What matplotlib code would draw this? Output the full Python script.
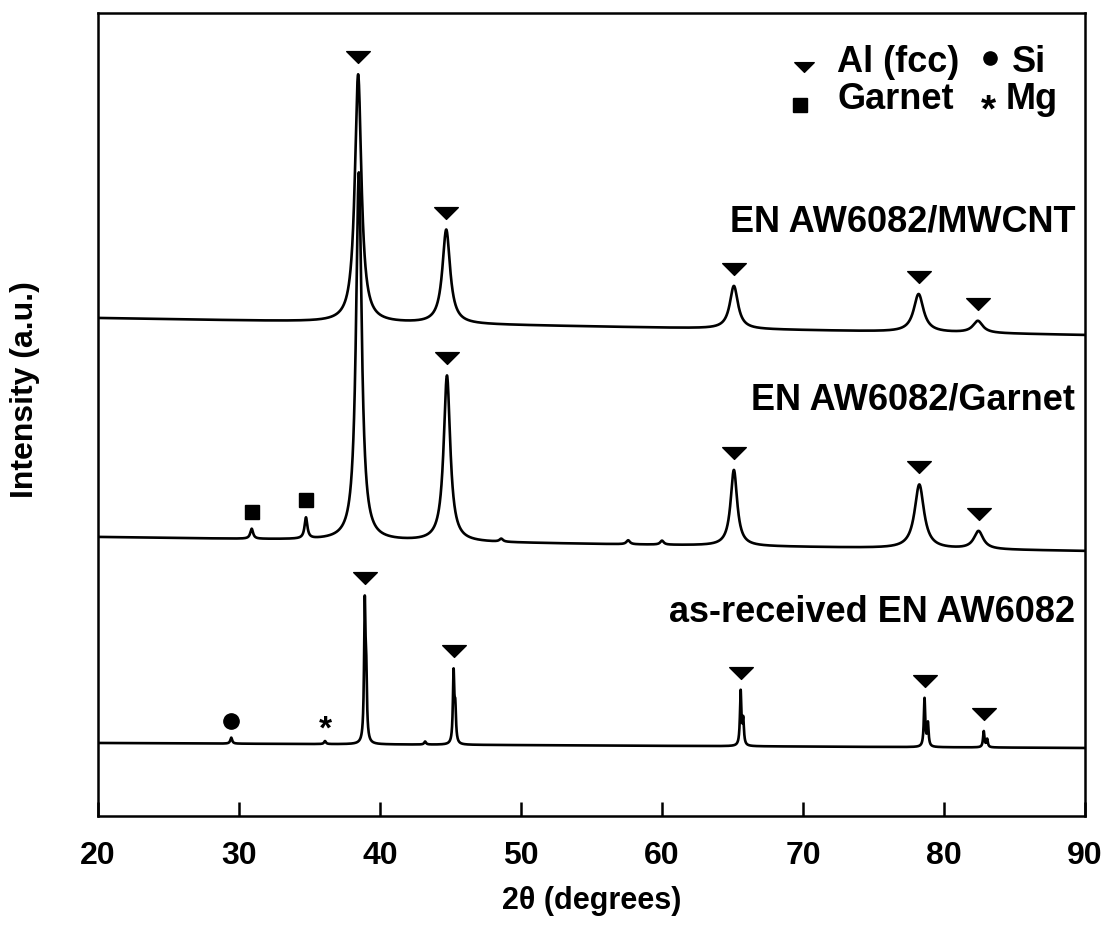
import numpy as np
import matplotlib.pyplot as plt
from matplotlib.path import Path

plt.rcParams['font.family'] = ['Liberation Sans', 'DejaVu Sans']
plt.rcParams['font.weight'] = 'bold'
plt.rcParams['axes.labelweight'] = 'bold'

# --- peak tables (2theta, height, half width) ---
mwcnt_pos = [38.45, 44.70, 65.10, 78.20, 82.40]
mwcnt_height = [248, 94, 43, 38, 12]
mwcnt_hwhm = [0.28, 0.33, 0.35, 0.42, 0.42]
mwcnt_base = [498, 481]

garnet_pos = [30.90, 34.75, 38.50, 44.75, 48.60, 57.60, 60.00, 65.10, 78.25, 82.45]
garnet_height = [10, 21, 368, 166, 3, 4, 4, 76, 64, 18]
garnet_hwhm = [0.12, 0.12, 0.24, 0.28, 0.15, 0.15, 0.15, 0.28, 0.40, 0.40]
garnet_base = [279, 265]

received_pos = [29.45, 36.10, 38.92, 39.02, 43.20, 45.22, 45.34,
                65.58, 65.76, 78.62, 78.86, 82.82, 83.06]
received_height = [6, 3, 133, 60, 3, 70, 32, 54, 25, 48, 23, 16, 8]
received_hwhm = [0.08, 0.08, 0.06, 0.06, 0.08, 0.06, 0.06,
                 0.06, 0.06, 0.06, 0.06, 0.06, 0.06]
received_base = [73, 68]

# phase markers: (2theta, symbol)
mwcnt_marks = [(38.45, 'Al'), (44.70, 'Al'), (65.10, 'Al'), (78.20, 'Al'), (82.40, 'Al')]
garnet_marks = [(30.90, 'Garnet'), (34.75, 'Garnet'), (44.75, 'Al'),
                (65.10, 'Al'), (78.25, 'Al'), (82.45, 'Al')]
received_marks = [(29.45, 'Si'), (36.10, 'Mg'), (38.92, 'Al'), (45.22, 'Al'),
                  (65.58, 'Al'), (78.62, 'Al'), (82.82, 'Al')]

sample_labels = ['EN AW6082/MWCNT', 'EN AW6082/Garnet', 'as-received EN AW6082']
legend_labels = ['Al (fcc)', 'Garnet', 'Si', 'Mg']

tri = Path([(-1, 0.5), (1, 0.5), (0, -0.5), (-1, 0.5)],
           [Path.MOVETO, Path.LINETO, Path.LINETO, Path.CLOSEPOLY])

two_theta = np.linspace(20, 90, 7001)


def pattern(pos, height, hwhm, base):
    y = np.interp(two_theta, [20, 90], base)
    for p, h, w in zip(pos, height, hwhm):
        y = y + h * w**2 / ((two_theta - p)**2 + w**2)
    return y


fig = plt.figure(figsize=(11.06, 9.32), dpi=100)
ax = fig.add_axes([0.0886, 0.1245, 0.8924, 0.8615])

traces = [
    (pattern(mwcnt_pos, mwcnt_height, mwcnt_hwhm, mwcnt_base), mwcnt_marks),
    (pattern(garnet_pos, garnet_height, garnet_hwhm, garnet_base), garnet_marks),
    (pattern(received_pos, received_height, received_hwhm, received_base), received_marks),
]

for y, marks in traces:
    ax.plot(two_theta, y, color='black', lw=1.9)
    for p, phase in marks:
        near = np.abs(two_theta - p) < 0.3
        ym = y[near].max() + 17
        if phase == 'Al':
            ax.plot(p, ym, marker=tri, ms=17, color='black', ls='none')
        elif phase == 'Garnet':
            ax.plot(p, ym, marker='s', ms=10.5, color='black', ls='none')
        elif phase == 'Si':
            ax.plot(p, ym, marker='o', ms=11, color='black', ls='none')
        else:
            ax.text(p, ym - 6, '*', fontsize=24, ha='center', va='center')

# sample names
for label, yf in zip(sample_labels, [0.740, 0.518, 0.253]):
    ax.text(0.99, yf, label, transform=ax.transAxes, fontsize=26,
            ha='right', va='center')

# legend drawn by hand
ax.plot(0.715, 0.933, marker=tri, ms=14, color='black', transform=ax.transAxes)
ax.plot(0.711, 0.885, marker='s', ms=9.5, color='black', transform=ax.transAxes)
ax.plot(0.904, 0.944, marker='o', ms=9.5, color='black', transform=ax.transAxes)
ax.text(0.902, 0.878, '*', fontsize=28, ha='center', va='center', transform=ax.transAxes)
for label, xf, yf in zip(legend_labels, [0.749, 0.749, 0.926, 0.920],
                         [0.939, 0.892, 0.939, 0.892]):
    ax.text(xf, yf, label, transform=ax.transAxes, fontsize=26,
            ha='left', va='center')

ax.set_xlim(20, 90)
ax.set_ylim(0, 803)
ax.set_xticks(range(20, 91, 10))
ax.set_yticks([])
ax.tick_params(axis='x', direction='in', length=10, width=1.8, labelsize=23, pad=18)
for s in ax.spines.values():
    s.set_linewidth(1.8)

ax.set_xlabel('2θ (degrees)', fontsize=22, fontweight='bold', labelpad=11)
fig.text(0.023, 0.582, 'Intensity (a.u.)', rotation=90, fontsize=23,
         ha='center', va='center')

fig.savefig('out.png', dpi=100)
